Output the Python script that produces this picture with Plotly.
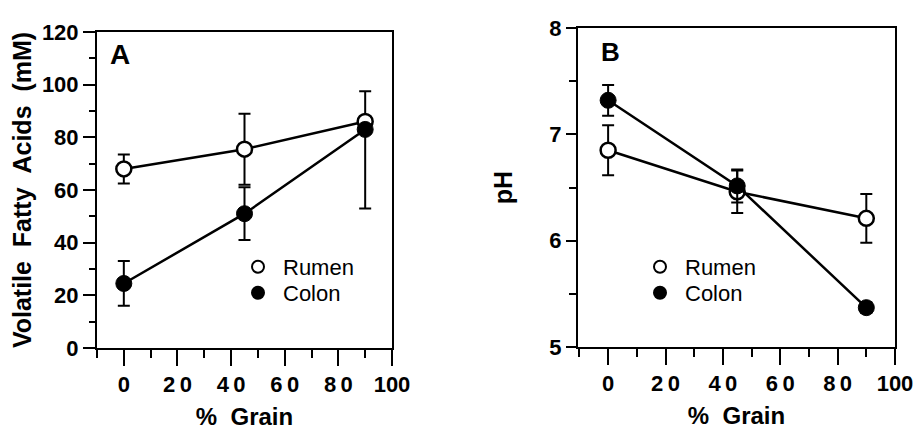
import plotly.graph_objects as go

grain = [0, 45, 90]
x_ticks = [0, 20, 40, 60, 80, 100]
x_tick_labels = ["0", "2\u20090", "4\u20090", "6\u20090", "8\u20090", "100"]

vfa_rumen = [68, 75.5, 86]
vfa_rumen_err_plus = [5.5, 13.5, 11.5]
vfa_rumen_err_minus = [5.5, 13.5, 0]
vfa_colon = [24.5, 51, 83]
vfa_colon_err_plus = [8.5, 10, 0]
vfa_colon_err_minus = [8.5, 10, 30]

ph_rumen = [6.85, 6.46, 6.21]
ph_rumen_err = [0.235, 0.2, 0.23]
ph_colon = [7.32, 6.515, 5.37]
ph_colon_err = [0.145, 0.155, 0.05]

FONT = "Liberation Sans, Arial, sans-serif"
# the page body has an 8px margin: the figure is sized to fit the 921x430 window
OFF = 8
W, H = 921 - OFF, 430 - OFF

def px_x(p):
    return (p - OFF) / W

def px_y(p):
    return 1 - (p - OFF) / H

fig = go.Figure()

open_marker = dict(symbol="circle", size=15, color="white", line=dict(color="black", width=2.5))
fill_marker = dict(symbol="circle", size=16, color="black", line=dict(color="black", width=1))

def add_series(x, y, err_plus, err_minus, marker, name, xa, ya, leg):
    fig.add_trace(go.Scatter(x=x, y=y, mode="lines", line=dict(color="black", width=2.5),
                             xaxis=xa, yaxis=ya, showlegend=False, hoverinfo="skip"))
    fig.add_trace(go.Scatter(x=x, y=y, mode="markers", marker=marker, name=name,
                             xaxis=xa, yaxis=ya, legend=leg, showlegend=True,
                             error_y=dict(type="data", array=err_plus, arrayminus=err_minus,
                                          symmetric=False, color="black", thickness=2, width=6)))

add_series(grain, vfa_rumen, vfa_rumen_err_plus, vfa_rumen_err_minus, open_marker, "Rumen", "x", "y", "legend")
add_series(grain, vfa_colon, vfa_colon_err_plus, vfa_colon_err_minus, fill_marker, "Colon", "x", "y", "legend2")
add_series(grain, ph_rumen, ph_rumen_err, ph_rumen_err, open_marker, "Rumen", "x2", "y2", "legend3")
add_series(grain, ph_colon, ph_colon_err, ph_colon_err, fill_marker, "Colon", "x2", "y2", "legend4")

tickfont = dict(family=FONT, size=22, color="black", weight="bold")
titlefont = dict(family=FONT, size=24, color="black", weight="bold")

xcommon = dict(tickvals=x_ticks, ticktext=x_tick_labels, ticks="outside", ticklen=16, tickwidth=2,
               tickcolor="black",
               minor=dict(dtick=10, ticks="outside", ticklen=8, tickwidth=2, tickcolor="black"),
               showline=True, linewidth=2, linecolor="black", mirror=True, showgrid=False,
               zeroline=False, tickfont=tickfont, automargin=False,
               title=dict(text="%\u00a0\u00a0Grain", font=titlefont, standoff=12))

def legend_at(x_left, y_mid):
    return dict(x=px_x(x_left), y=px_y(y_mid), xanchor="left", yanchor="middle",
                font=dict(family=FONT, size=22, color="black"), bgcolor="rgba(0,0,0,0)",
                itemsizing="constant", itemwidth=40)

fig.update_layout(
    width=W, height=H, margin=dict(l=0, r=0, t=0, b=0),
    paper_bgcolor="white", plot_bgcolor="white",
    xaxis=dict(domain=[px_x(97), px_x(392)], range=[-10, 100], anchor="y", **xcommon),
    xaxis2=dict(domain=[px_x(578), px_x(895)], range=[-10.5, 100], anchor="y2", **xcommon),
    yaxis=dict(domain=[px_y(348), px_y(32)], range=[0, 120], dtick=20, anchor="x",
               ticks="outside", ticklen=12, tickwidth=2, tickcolor="black",
               minor=dict(dtick=10, ticks="outside", ticklen=6, tickwidth=2, tickcolor="black"),
               showline=True, linewidth=2, linecolor="black", mirror=True, showgrid=False,
               zeroline=False, tickfont=tickfont, automargin=False,
               title=dict(text="Volatile\u00a0\u00a0Fatty\u00a0\u00a0Acids\u00a0\u00a0(mM)",
                          font=dict(family=FONT, size=25, color="black", weight="bold"), standoff=6)),
    yaxis2=dict(domain=[px_y(347), px_y(28)], range=[5, 8], dtick=1, anchor="x2",
                ticks="outside", ticklen=10, tickwidth=2, tickcolor="black",
                minor=dict(dtick=0.5, ticks="outside", ticklen=7, tickwidth=2, tickcolor="black"),
                showline=True, linewidth=2, linecolor="black", mirror=True, showgrid=False,
                zeroline=False, tickfont=tickfont, automargin=False,
                title=dict(text="pH", font=dict(family=FONT, size=25, color="black", weight="bold"),
                           standoff=30)),
    legend=legend_at(233, 267),
    legend2=legend_at(233, 293),
    legend3=legend_at(635, 267),
    legend4=legend_at(635, 293),
    annotations=[
        dict(text="A", x=px_x(120), y=px_y(54), xref="paper", yref="paper", showarrow=False,
             xanchor="center", yanchor="middle",
             font=dict(family=FONT, size=28, color="black", weight="bold")),
        dict(text="B", x=px_x(610), y=px_y(52), xref="paper", yref="paper", showarrow=False,
             xanchor="center", yanchor="middle",
             font=dict(family=FONT, size=26, color="black", weight="bold")),
    ],
)

fig.write_html("out.html")
